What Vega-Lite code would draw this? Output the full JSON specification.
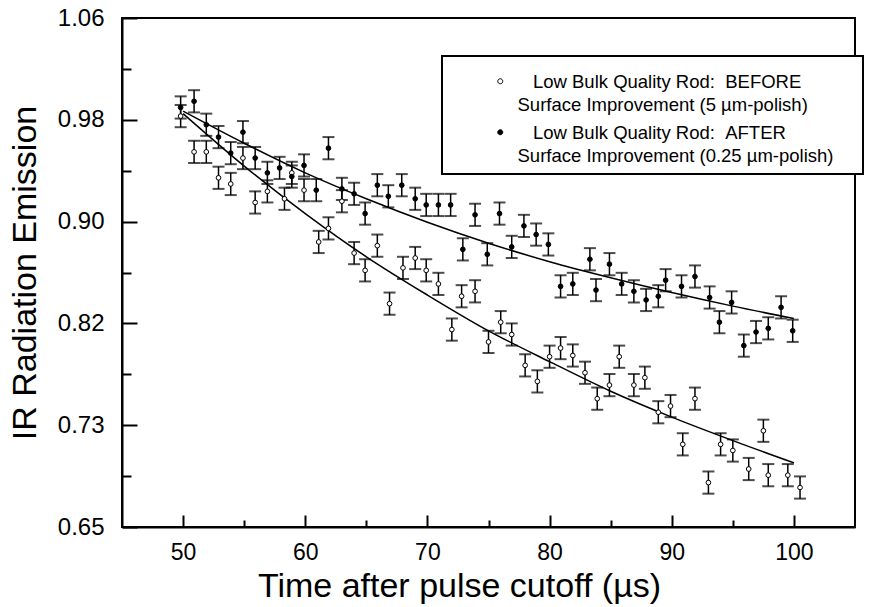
{
  "$schema": "https://vega.github.io/schema/vega-lite/v6.json",
  "width": 733,
  "height": 509,
  "autosize": {"type": "none"},
  "padding": {"left": 122, "top": 18, "right": 15, "bottom": 80},
  "background": "white",
  "config": {
    "view": {"stroke": "black", "strokeWidth": 2},
    "font": "Liberation Sans",
    "axis": {"labelFont": "Liberation Sans", "titleFont": "Liberation Sans", "labelColor": "black", "titleColor": "black", "domainColor": "black", "tickColor": "black", "grid": false, "titleFontWeight": "normal"},
    "legend": {"strokeWidth": 2},
    "style": {"guide-label": {"lineHeight": 23}}
  },
  "datasets": {
    "fit": [
      {"t": 50, "v": 0.985, "series": "before"},
      {"t": 55, "v": 0.9425, "series": "before"},
      {"t": 60, "v": 0.904, "series": "before"},
      {"t": 65, "v": 0.869, "series": "before"},
      {"t": 70, "v": 0.838, "series": "before"},
      {"t": 75, "v": 0.809, "series": "before"},
      {"t": 80, "v": 0.784, "series": "before"},
      {"t": 85, "v": 0.760, "series": "before"},
      {"t": 90, "v": 0.739, "series": "before"},
      {"t": 95, "v": 0.720, "series": "before"},
      {"t": 100, "v": 0.702, "series": "before"},
      {"t": 50, "v": 0.987, "series": "after"},
      {"t": 55, "v": 0.961, "series": "after"},
      {"t": 60, "v": 0.937, "series": "after"},
      {"t": 65, "v": 0.916, "series": "after"},
      {"t": 70, "v": 0.897, "series": "after"},
      {"t": 75, "v": 0.880, "series": "after"},
      {"t": 80, "v": 0.865, "series": "after"},
      {"t": 85, "v": 0.852, "series": "after"},
      {"t": 90, "v": 0.840, "series": "after"},
      {"t": 95, "v": 0.829, "series": "after"},
      {"t": 100, "v": 0.819, "series": "after"}
    ],
    "obs": [
      {"t": 49.8, "v": 0.983, "err": 0.009, "series": "before"},
      {"t": 50.9, "v": 0.954, "err": 0.009, "series": "before"},
      {"t": 51.9, "v": 0.954, "err": 0.009, "series": "before"},
      {"t": 52.9, "v": 0.933, "err": 0.009, "series": "before"},
      {"t": 53.9, "v": 0.928, "err": 0.009, "series": "before"},
      {"t": 54.9, "v": 0.949, "err": 0.009, "series": "before"},
      {"t": 55.9, "v": 0.913, "err": 0.009, "series": "before"},
      {"t": 56.9, "v": 0.922, "err": 0.009, "series": "before"},
      {"t": 58.3, "v": 0.916, "err": 0.009, "series": "before"},
      {"t": 58.9, "v": 0.937, "err": 0.009, "series": "before"},
      {"t": 59.9, "v": 0.923, "err": 0.009, "series": "before"},
      {"t": 61.1, "v": 0.881, "err": 0.009, "series": "before"},
      {"t": 61.9, "v": 0.892, "err": 0.009, "series": "before"},
      {"t": 63.0, "v": 0.914, "err": 0.009, "series": "before"},
      {"t": 64.0, "v": 0.872, "err": 0.009, "series": "before"},
      {"t": 64.9, "v": 0.858, "err": 0.009, "series": "before"},
      {"t": 65.9, "v": 0.878, "err": 0.009, "series": "before"},
      {"t": 66.9, "v": 0.831, "err": 0.009, "series": "before"},
      {"t": 68.0, "v": 0.860, "err": 0.009, "series": "before"},
      {"t": 69.0, "v": 0.868, "err": 0.009, "series": "before"},
      {"t": 69.9, "v": 0.858, "err": 0.009, "series": "before"},
      {"t": 70.9, "v": 0.847, "err": 0.009, "series": "before"},
      {"t": 72.0, "v": 0.810, "err": 0.009, "series": "before"},
      {"t": 72.8, "v": 0.837, "err": 0.009, "series": "before"},
      {"t": 73.9, "v": 0.841, "err": 0.009, "series": "before"},
      {"t": 75.0, "v": 0.800, "err": 0.009, "series": "before"},
      {"t": 76.0, "v": 0.816, "err": 0.009, "series": "before"},
      {"t": 76.9, "v": 0.806, "err": 0.009, "series": "before"},
      {"t": 78.0, "v": 0.781, "err": 0.009, "series": "before"},
      {"t": 79.0, "v": 0.768, "err": 0.009, "series": "before"},
      {"t": 80.0, "v": 0.788, "err": 0.009, "series": "before"},
      {"t": 80.9, "v": 0.795, "err": 0.009, "series": "before"},
      {"t": 81.9, "v": 0.789, "err": 0.009, "series": "before"},
      {"t": 82.9, "v": 0.775, "err": 0.009, "series": "before"},
      {"t": 83.9, "v": 0.754, "err": 0.009, "series": "before"},
      {"t": 84.9, "v": 0.765, "err": 0.009, "series": "before"},
      {"t": 85.7, "v": 0.788, "err": 0.009, "series": "before"},
      {"t": 86.9, "v": 0.765, "err": 0.009, "series": "before"},
      {"t": 87.8, "v": 0.771, "err": 0.009, "series": "before"},
      {"t": 88.9, "v": 0.743, "err": 0.009, "series": "before"},
      {"t": 89.9, "v": 0.748, "err": 0.009, "series": "before"},
      {"t": 90.9, "v": 0.717, "err": 0.009, "series": "before"},
      {"t": 91.9, "v": 0.754, "err": 0.009, "series": "before"},
      {"t": 93.0, "v": 0.686, "err": 0.009, "series": "before"},
      {"t": 94.0, "v": 0.717, "err": 0.009, "series": "before"},
      {"t": 95.0, "v": 0.712, "err": 0.009, "series": "before"},
      {"t": 96.3, "v": 0.697, "err": 0.009, "series": "before"},
      {"t": 97.5, "v": 0.728, "err": 0.009, "series": "before"},
      {"t": 97.9, "v": 0.692, "err": 0.009, "series": "before"},
      {"t": 99.5, "v": 0.692, "err": 0.009, "series": "before"},
      {"t": 100.5, "v": 0.682, "err": 0.009, "series": "before"},
      {"t": 49.8, "v": 0.990, "err": 0.009, "series": "after"},
      {"t": 50.9, "v": 0.995, "err": 0.009, "series": "after"},
      {"t": 51.9, "v": 0.976, "err": 0.009, "series": "after"},
      {"t": 52.9, "v": 0.966, "err": 0.009, "series": "after"},
      {"t": 53.9, "v": 0.953, "err": 0.009, "series": "after"},
      {"t": 54.9, "v": 0.970, "err": 0.009, "series": "after"},
      {"t": 55.9, "v": 0.949, "err": 0.009, "series": "after"},
      {"t": 56.9, "v": 0.937, "err": 0.009, "series": "after"},
      {"t": 57.9, "v": 0.941, "err": 0.009, "series": "after"},
      {"t": 58.9, "v": 0.934, "err": 0.009, "series": "after"},
      {"t": 59.9, "v": 0.943, "err": 0.009, "series": "after"},
      {"t": 60.9, "v": 0.923, "err": 0.009, "series": "after"},
      {"t": 61.9, "v": 0.957, "err": 0.009, "series": "after"},
      {"t": 63.0, "v": 0.924, "err": 0.009, "series": "after"},
      {"t": 64.0, "v": 0.920, "err": 0.009, "series": "after"},
      {"t": 64.9, "v": 0.904, "err": 0.009, "series": "after"},
      {"t": 65.9, "v": 0.927, "err": 0.009, "series": "after"},
      {"t": 66.8, "v": 0.918, "err": 0.009, "series": "after"},
      {"t": 67.9, "v": 0.927, "err": 0.009, "series": "after"},
      {"t": 69.0, "v": 0.916, "err": 0.009, "series": "after"},
      {"t": 69.9, "v": 0.911, "err": 0.009, "series": "after"},
      {"t": 70.9, "v": 0.911, "err": 0.009, "series": "after"},
      {"t": 71.9, "v": 0.911, "err": 0.009, "series": "after"},
      {"t": 72.9, "v": 0.875, "err": 0.009, "series": "after"},
      {"t": 73.9, "v": 0.903, "err": 0.009, "series": "after"},
      {"t": 74.9, "v": 0.871, "err": 0.009, "series": "after"},
      {"t": 75.9, "v": 0.904, "err": 0.009, "series": "after"},
      {"t": 76.9, "v": 0.877, "err": 0.009, "series": "after"},
      {"t": 77.9, "v": 0.894, "err": 0.009, "series": "after"},
      {"t": 78.9, "v": 0.887, "err": 0.009, "series": "after"},
      {"t": 79.9, "v": 0.879, "err": 0.009, "series": "after"},
      {"t": 80.9, "v": 0.845, "err": 0.009, "series": "after"},
      {"t": 81.9, "v": 0.847, "err": 0.009, "series": "after"},
      {"t": 83.3, "v": 0.867, "err": 0.009, "series": "after"},
      {"t": 83.8, "v": 0.842, "err": 0.009, "series": "after"},
      {"t": 84.9, "v": 0.863, "err": 0.009, "series": "after"},
      {"t": 85.9, "v": 0.847, "err": 0.009, "series": "after"},
      {"t": 86.9, "v": 0.841, "err": 0.009, "series": "after"},
      {"t": 87.9, "v": 0.834, "err": 0.009, "series": "after"},
      {"t": 88.9, "v": 0.837, "err": 0.009, "series": "after"},
      {"t": 89.5, "v": 0.850, "err": 0.009, "series": "after"},
      {"t": 90.8, "v": 0.845, "err": 0.009, "series": "after"},
      {"t": 91.9, "v": 0.853, "err": 0.009, "series": "after"},
      {"t": 93.1, "v": 0.836, "err": 0.009, "series": "after"},
      {"t": 93.9, "v": 0.816, "err": 0.009, "series": "after"},
      {"t": 94.9, "v": 0.832, "err": 0.009, "series": "after"},
      {"t": 95.9, "v": 0.797, "err": 0.009, "series": "after"},
      {"t": 96.9, "v": 0.808, "err": 0.009, "series": "after"},
      {"t": 97.9, "v": 0.811, "err": 0.009, "series": "after"},
      {"t": 98.95, "v": 0.828, "err": 0.009, "series": "after"},
      {"t": 99.9, "v": 0.809, "err": 0.009, "series": "after"}
    ]
  },
  "layer": [
    {
      "data": {"name": "fit"},
      "mark": {"type": "line", "color": "black", "strokeWidth": 1.5, "interpolate": "monotone"},
      "encoding": {
        "x": {
          "field": "t", "type": "quantitative",
          "scale": {"domain": [45, 105], "nice": false, "zero": false},
          "axis": {
            "orient": "bottom", "values": [50, 60, 70, 80, 90, 100],
            "title": "Time after pulse cutoff (µs)",
            "tickSize": -12, "tickWidth": 2, "domainWidth": 2,
            "labelFontSize": 23, "labelPadding": 26, "labelBaseline": "top",
            "titleFontSize": 34, "titleX": 337, "titleY": 69, "titleAlign": "center", "titleBaseline": "alphabetic"
          }
        },
        "y": {
          "field": "v", "type": "quantitative",
          "scale": {"domain": [0.65, 1.0625], "nice": false, "zero": false},
          "axis": {
            "orient": "left", "values": [0.65, 0.7325, 0.815, 0.8975, 0.98, 1.0625],
            "labelExpr": "format(datum.value + 0.0001, '.2f')",
            "title": "IR Radiation Emission",
            "tickSize": -15, "tickWidth": 2, "domainWidth": 2,
            "labelFontSize": 24, "labelPadding": 33,
            "titleFontSize": 34, "titleX": -87, "titleY": 254.5, "titleAngle": -90, "titleAlign": "center", "titleBaseline": "alphabetic"
          }
        },
        "detail": {"field": "series"}
      }
    },
    {
      "data": {"name": "obs"},
      "mark": {"type": "errorbar", "color": "black", "ticks": {"size": 12, "thickness": 2, "color": "black"}, "rule": {"strokeWidth": 1.5, "color": "black"}},
      "encoding": {
        "x": {
          "field": "t", "type": "quantitative",
          "axis": {"orient": "bottom", "values": [55, 65, 75, 85, 95], "labels": false, "domain": false, "title": null, "tickSize": -7, "tickWidth": 2}
        },
        "y": {
          "field": "v", "type": "quantitative",
          "axis": {"orient": "left", "values": [0.69125, 0.77375, 0.85625, 0.93875, 1.02125], "labels": false, "domain": false, "title": null, "tickSize": -9, "tickWidth": 2}
        },
        "yError": {"field": "err"},
        "detail": {"field": "series"}
      }
    },
    {
      "data": {"name": "obs"},
      "mark": {"type": "circle", "stroke": "black", "strokeWidth": 1, "size": 22, "opacity": 1},
      "encoding": {
        "x": {"field": "t", "type": "quantitative", "axis": null},
        "y": {"field": "v", "type": "quantitative", "axis": null},
        "fill": {
          "field": "series", "type": "nominal",
          "scale": {"domain": ["before", "after"], "range": ["white", "black"]},
          "legend": {
            "orient": "none", "legendX": 320, "legendY": 38, "title": null,
            "strokeColor": "black", "fillColor": "white", "padding": 8,
            "symbolType": "M -0.5 1.6 A 0.5 0.5 0 1 1 0.5 1.6 A 0.5 0.5 0 1 1 -0.5 1.6 Z",
            "symbolSize": 100, "symbolStrokeColor": "black", "symbolStrokeWidth": 1,
            "symbolOffset": 41, "labelOffset": 8, "rowPadding": -3,
            "labelFont": "Liberation Sans", "labelFontSize": 18.5, "labelColor": "black",
            "labelBaseline": "top", "labelLimit": 600,
            "labelExpr": "datum.label == 'before' ? ['\u200b\u00a0\u00a0\u00a0Low Bulk Quality Rod: \u00a0BEFORE', 'Surface Improvement (5 µm-polish)'] : ['\u200b\u00a0\u00a0\u00a0Low Bulk Quality Rod: \u00a0AFTER', 'Surface Improvement (0.25 µm-polish)\u00a0\u00a0\u00a0\u00a0\u200b']"
          }
        }
      }
    }
  ],
  "resolve": {"axis": {"x": "independent", "y": "independent"}}
}
